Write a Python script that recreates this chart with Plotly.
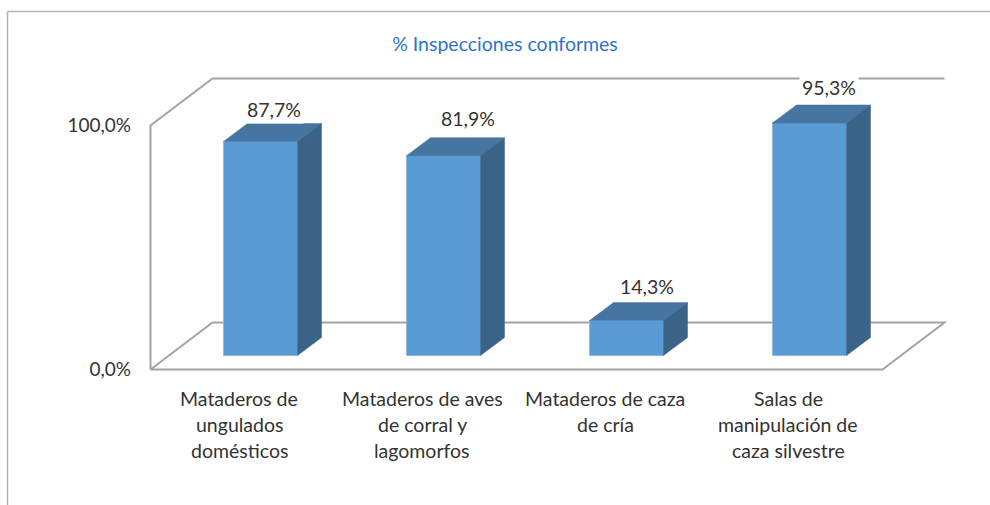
import plotly.graph_objects as go

categories = ["Mataderos de\nungulados\ndomésticos", "Mataderos de aves\nde corral y\nlagomorfos",
              "Mataderos de caza\nde cría", "Salas de\nmanipulación de\ncaza silvestre"]
values = [87.7, 81.9, 14.3, 95.3]
value_labels = ["87,7%", "81,9%", "14,3%", "95,3%"]
y_ticks = [0, 100]
y_tick_labels = ["0,0%", "100,0%"]

W, H = 990, 505
FONT = "Lato"
FW = 400
FS = 19.5
TEXT = "#333333"
FRONT, TOP, SIDE = "#5B9BD5", "#4675A1", "#3A6387"
WALL = "#A3A3A3"

# scale of the front plane, in pixels
PX_X0, PX_CAT = 150.5, 183.0
PX_Y0, PX_PCT = 369.5, 2.44
dom_l, dom_r, dom_b, dom_t = 145, 952, 376, 70
to_x = lambda p: (p - PX_X0) / PX_CAT - 0.5
to_y = lambda p: (PX_Y0 - p) / PX_PCT

WALL_DX, WALL_DY = 62 / PX_CAT, 47 / PX_PCT          # depth of the floor
BAR_DX, BAR_DY = 24 / PX_CAT, 18 / PX_PCT            # depth of a bar
INSET_X, INSET_Y = 18.5 / PX_CAT, 14 / PX_PCT        # front of a bar behind the axis plane
BAR_W = 74 / PX_CAT
n = len(categories)
x_min, x_max = -0.5, n - 0.5
top = 100

fig = go.Figure()

# front faces
xs = [i + INSET_X for i in range(n)]
fig.add_trace(go.Bar(x=xs, y=values, base=INSET_Y, width=BAR_W,
                     marker=dict(color=FRONT, line=dict(width=1, color="#8DB9E2")),
                     hoverinfo="skip", showlegend=False))

# top and side faces
for xc, v in zip(xs, values):
    l, r = xc - BAR_W / 2, xc + BAR_W / 2
    y0, y1 = INSET_Y, INSET_Y + v
    fig.add_trace(go.Scatter(x=[l, r, r + BAR_DX, l + BAR_DX, l],
                             y=[y1, y1, y1 + BAR_DY, y1 + BAR_DY, y1],
                             mode="lines", fill="toself", fillcolor=TOP,
                             line=dict(width=0.5, color=TOP), hoverinfo="skip", showlegend=False))
    fig.add_trace(go.Scatter(x=[r, r + BAR_DX, r + BAR_DX, r, r],
                             y=[y0, y0 + BAR_DY, y1 + BAR_DY, y1, y0],
                             mode="lines", fill="toself", fillcolor=SIDE,
                             line=dict(width=0.5, color=SIDE), hoverinfo="skip", showlegend=False))

# walls and floor
wall_style = dict(type="path", xref="x", yref="y", layer="below",
                  line=dict(color=WALL, width=2))
def path(pts):
    return "M " + " L ".join(f"{a},{b}" for a, b in pts)
fig.add_shape(path=path([(x_min, 0), (x_min, top), (x_min + WALL_DX, top + WALL_DY), (x_max + WALL_DX, top + WALL_DY)]), **wall_style)
fig.add_shape(path=path([(x_min, 0), (x_max, 0), (x_max + WALL_DX, WALL_DY), (x_min + WALL_DX, WALL_DY), (x_min, 0)]), **wall_style)

# outer frame (open on the right and at the bottom)
frame = dict(type="line", xref="paper", yref="paper", line=dict(color="#B2B2B2", width=1.5))
fig.add_shape(x0=7.5 / W, x1=7.5 / W, y0=0, y1=1 - 11.5 / H, **frame)
fig.add_shape(x0=7.5 / W, x1=1, y0=1 - 11.5 / H, y1=1 - 11.5 / H, **frame)

# data labels (hand-placed in the source chart)
label_shift_x = [13, 24, 20, 19]
label_shift_y = [32, 37, 34, 35]
for xc, v, t, sx, sy in zip(xs, values, value_labels, label_shift_x, label_shift_y):
    fig.add_annotation(x=xc, y=INSET_Y + v, text=t, showarrow=False, xref="x", yref="y",
                       xshift=sx, yshift=sy, bgcolor="white", borderpad=2,
                       font=dict(family=FONT, size=FS, weight=FW, color=TEXT))

# category labels, 26 px line pitch
for i, cat in enumerate(categories):
    for j, line in enumerate(cat.split("\n")):
        fig.add_annotation(x=i, y=0, text=line, showarrow=False, xref="x", yref="y",
                           xshift=-3, yshift=-29 - 26 * j,
                           font=dict(family=FONT, size=FS, weight=FW, color=TEXT))

fig.update_layout(
    template="none",
    width=W, height=H, margin=dict(l=0, r=0, t=0, b=0),
    paper_bgcolor="white", plot_bgcolor="white", showlegend=False, bargap=0,
    font=dict(family=FONT, size=FS, color=TEXT),
    title=dict(text="% Inspecciones conformes", x=505 / W, y=1 - 44 / H, xanchor="center", yanchor="middle",
               font=dict(family=FONT, size=19.5, weight=FW, color="#2E75C6")),
    xaxis=dict(automargin=False, domain=[dom_l / W, dom_r / W], range=[to_x(dom_l), to_x(dom_r)],
               showgrid=False, zeroline=False, showline=False, showticklabels=False, ticks=""),
    yaxis=dict(automargin=False, domain=[1 - dom_b / H, 1 - dom_t / H], range=[to_y(dom_b), to_y(dom_t)],
               showgrid=False, zeroline=False, showline=False,
               tickvals=y_ticks, ticktext=y_tick_labels, ticks="",
               tickfont=dict(family=FONT, size=19, weight=FW, color=TEXT), ticklabelstandoff=13),
)

fig.write_html("out.html", config={"displayModeBar": False},
               post_script="document.body.style.margin='0';document.documentElement.style.overflow='hidden';")
